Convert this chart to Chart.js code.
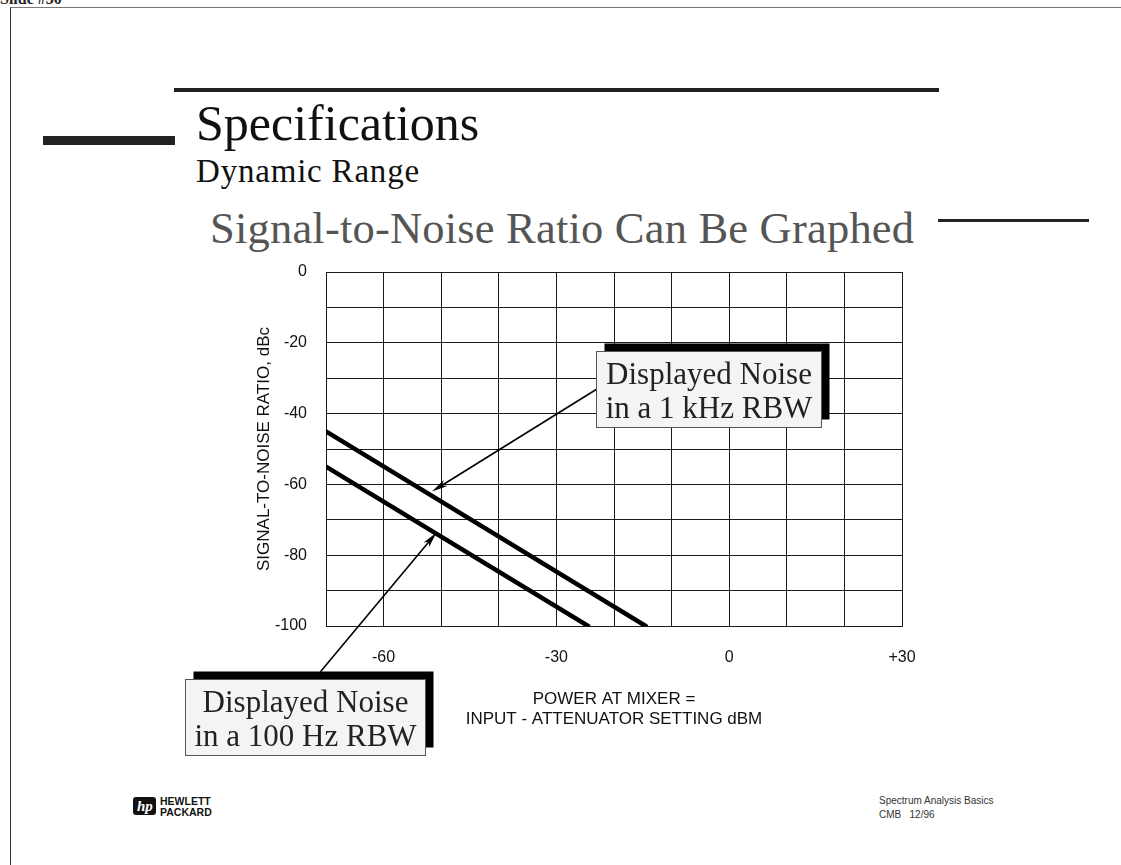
<!DOCTYPE html>
<html lang="en">

<head>
  <meta charset="UTF-8">
  <script src="https://cdn.jsdelivr.net/npm/chart.js@4/dist/chart.umd.min.js"></script>
  <title>Signal-to-Noise Ratio Can Be Graphed</title>
  <style>
    body { margin: 0; width: 1121px; height: 865px; overflow: hidden; background: #fff; position: relative; }
    .abs { position: absolute; white-space: pre; }
    .serif { font-family: "Liberation Serif", "Times New Roman", serif; }
    .sans { font-family: "Liberation Sans", Arial, sans-serif; }
    .bar { position: absolute; background: #222; }
    #chart { position: absolute; left: 0; top: 0; pointer-events: none; }
  </style>
</head>

<body>
  <div class="abs serif" style="left:0; top:-9px; font-size:16px; font-weight:bold; line-height:16px; color:#222;">Slide #30</div>
  <div class="abs" style="left:10px; top:7px; width:1200px; height:900px; border-left:1px solid #333; border-top:1px solid #777;"></div>

  <div class="bar" style="left:174px; top:88px; width:765px; height:4px;"></div>
  <div class="bar" style="left:43px; top:136px; width:132px; height:9px;"></div>
  <div class="bar" style="left:938px; top:219px; width:151px; height:3px;"></div>

  <div class="abs serif" style="left:196px; top:98px; font-size:50px; line-height:50px; color:#111;">Specifications</div>
  <div class="abs serif" style="left:196px; top:155px; font-size:33px; line-height:33px; letter-spacing:0.8px; color:#111;">Dynamic Range</div>
  <div class="abs serif" style="left:210px; top:206px; font-size:44.5px; line-height:44px; letter-spacing:0.2px; color:#555;">Signal-to-Noise Ratio Can Be Graphed</div>

  <div class="abs" style="left:133px; top:797px; width:23px; height:18px; background:#111; border-radius:3px;"></div>
  <div class="abs serif" style="left:137px; top:797px; font-size:15px; line-height:18px; font-style:italic; font-weight:bold; color:#fff;">hp</div>
  <div class="abs sans" style="left:160px; top:796px; font-size:10.5px; line-height:10.5px; font-weight:bold; color:#111;">HEWLETT
PACKARD</div>

  <div class="abs sans" style="left:879px; top:794px; font-size:10px; line-height:13.5px; color:#333;">Spectrum Analysis Basics
CMB   12/96</div>

  <canvas id="chart" width="1121" height="865"></canvas>

  <script>
    // noise floor lines: signal-to-noise ratio (dBc) vs power at mixer (dBm)
    const rbw1kX = [-70, -14.5];
    const rbw1kY = [-45, -100];
    const rbw100X = [-70, -24.5];
    const rbw100Y = [-55, -100];

    const xTickValues = [-60, -30, 0, 30];
    const xTickLabels = ['-60', '-30', '0', '+30'];
    const yTickValues = [0, -20, -40, -60, -80, -100];
    const yTickLabels = ['0', '-20', '-40', '-60', '-80', '-100'];

    const xTitle = ['POWER AT MIXER =', 'INPUT - ATTENUATOR SETTING dBM'];
    const yTitle = 'SIGNAL-TO-NOISE RATIO, dBc';

    // callouts, placed in axis units
    const noteText = [['Displayed Noise', 'in a 1 kHz RBW'], ['Displayed Noise', 'in a 100 Hz RBW']];
    const noteBoxAt = [[-23.1, -22.2], [-94.4, -115.1]];
    const noteTail = [[-23.1, -33.2], [-71.0, -113.0]];
    const noteTip = [[-51.6, -62.0], [-50.8, -73.6]];

    function toPoints(xs, ys) {
      return xs.map((v, i) => ({ x: v, y: ys[i] }));
    }

    const tickFont = { family: '"Liberation Sans", Arial, sans-serif', size: 16 };
    const titleFont = { family: '"Liberation Sans", Arial, sans-serif', size: 17, lineHeight: 1.2 };

    const callouts = {
      id: 'callouts',
      afterDraw(chart) {
        const { ctx, scales: { x, y } } = chart;
        ctx.save();
        ctx.font = '31px "Liberation Serif", "Times New Roman", serif';

        // arrows first, boxes go over their tails
        for (let i = 0; i < noteText.length; i++) {
          const x0 = x.getPixelForValue(noteTail[i][0]), y0 = y.getPixelForValue(noteTail[i][1]);
          const x1 = x.getPixelForValue(noteTip[i][0]), y1 = y.getPixelForValue(noteTip[i][1]);
          const a = Math.atan2(y1 - y0, x1 - x0);
          ctx.strokeStyle = '#000';
          ctx.fillStyle = '#000';
          ctx.lineWidth = 1.6;
          ctx.beginPath();
          ctx.moveTo(x0, y0);
          ctx.lineTo(x1 - 10 * Math.cos(a), y1 - 10 * Math.sin(a));
          ctx.stroke();
          ctx.beginPath();
          ctx.moveTo(x1, y1);
          ctx.lineTo(x1 - 16 * Math.cos(a) + 3.5 * Math.sin(a), y1 - 16 * Math.sin(a) - 3.5 * Math.cos(a));
          ctx.lineTo(x1 - 12 * Math.cos(a), y1 - 12 * Math.sin(a));
          ctx.lineTo(x1 - 16 * Math.cos(a) - 3.5 * Math.sin(a), y1 - 16 * Math.sin(a) + 3.5 * Math.cos(a));
          ctx.closePath();
          ctx.fill();
        }

        for (let i = 0; i < noteText.length; i++) {
          const bx = Math.round(x.getPixelForValue(noteBoxAt[i][0])) + 0.5;
          const by = Math.round(y.getPixelForValue(noteBoxAt[i][1])) + 0.5;
          const tw = Math.max(...noteText[i].map(t => ctx.measureText(t).width));
          const w = Math.round(tw + 18), h = 76;
          ctx.fillStyle = '#000';
          ctx.fillRect(bx + 8, by - 8, w, h);
          ctx.fillStyle = '#f4f4f4';
          ctx.fillRect(bx, by, w, h);
          ctx.strokeStyle = '#555';
          ctx.lineWidth = 1;
          ctx.strokeRect(bx, by, w, h);
          ctx.fillStyle = '#222';
          ctx.textAlign = 'center';
          ctx.textBaseline = 'alphabetic';
          noteText[i].forEach((t, k) => ctx.fillText(t, bx + w / 2, by + 32.5 + k * 33.5));
        }
        ctx.restore();
      }
    };

    const lineStyle = {
      showLine: true,
      borderColor: '#000',
      backgroundColor: '#000',
      borderWidth: 4.5,
      borderCapStyle: 'round',
      pointRadius: 0,
      pointHoverRadius: 0
    };

    new Chart('chart', {
      type: 'scatter',
      data: {
        datasets: [
          { label: '1 kHz RBW', data: toPoints(rbw1kX, rbw1kY), ...lineStyle },
          { label: '100 Hz RBW', data: toPoints(rbw100X, rbw100Y), ...lineStyle }
        ]
      },
      options: {
        responsive: false,
        devicePixelRatio: 1,
        animation: false,
        layout: { padding: { left: 240, top: 272, right: 219, bottom: 135 } },
        plugins: { legend: { display: false }, tooltip: { enabled: false }, colors: { enabled: false } },
        scales: {
          x: {
            type: 'linear',
            min: -70,
            max: 30,
            afterFit(scale) { scale.height = 104; },
            grid: { color: '#1a1a1a', lineWidth: 1, drawTicks: false },
            border: { color: '#1a1a1a' },
            ticks: {
              stepSize: 10,
              autoSkip: false,
              maxRotation: 0,
              padding: 22,
              color: '#111',
              font: tickFont,
              callback: v => {
                const k = xTickValues.indexOf(v);
                return k < 0 ? '' : xTickLabels[k];
              }
            },
            title: { display: true, text: xTitle, color: '#111', font: titleFont, padding: { top: 0, bottom: 0 } }
          },
          y: {
            type: 'linear',
            min: -100,
            max: 0,
            afterFit(scale) { scale.width = 86; },
            grid: { color: '#1a1a1a', lineWidth: 1, drawTicks: false },
            border: { color: '#1a1a1a' },
            ticks: {
              stepSize: 10,
              autoSkip: false,
              padding: 19,
              color: '#111',
              font: tickFont,
              callback: v => {
                const k = yTickValues.indexOf(v);
                return k < 0 ? '' : yTickLabels[k];
              }
            },
            title: { display: true, text: yTitle, color: '#111', font: titleFont, padding: { top: 14, bottom: 0 } }
          }
        }
      },
      plugins: [callouts]
    });
  </script>
</body>

</html>
